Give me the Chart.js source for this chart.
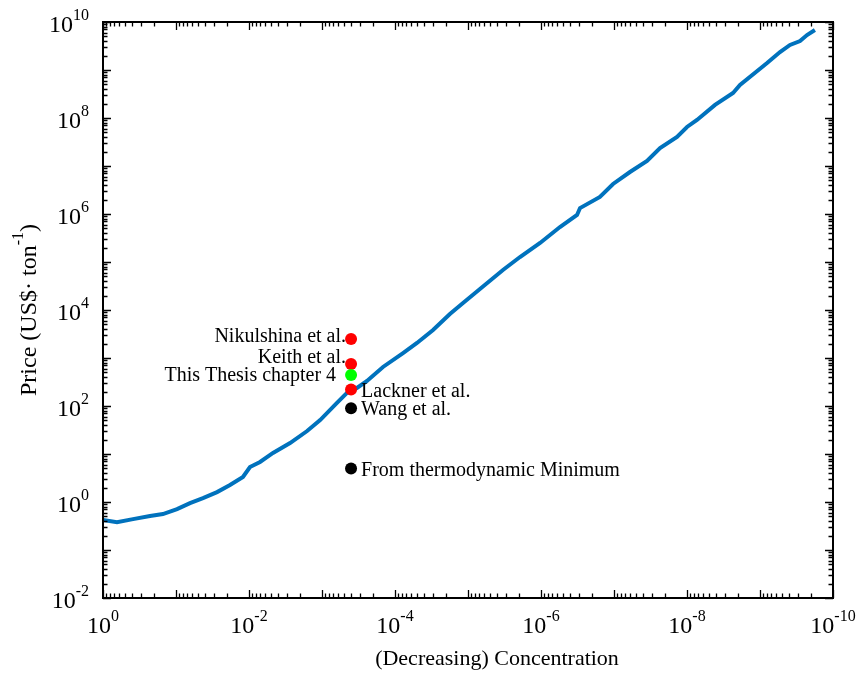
<!DOCTYPE html>
<html>
<head>
<meta charset="utf-8">
<script src="https://cdn.jsdelivr.net/npm/chart.js@4/dist/chart.umd.min.js"></script>
<style>
  html, body { margin: 0; padding: 0; background: #fff; }
  canvas { display: block; }
</style>
</head>
<body>
<canvas id="priceChart" width="861" height="677"></canvas>
<script>
// cost curve: price per ton vs. (decreasing) concentration
const conc = [1, 0.643, 0.388, 0.227, 0.151, 0.0968, 0.0643, 0.0427, 0.0274, 0.0182,
  0.0121, 0.0097, 0.00706, 0.00469, 0.00274, 0.0016, 0.00106, 6.24e-4, 4.55e-4, 3.32e-4,
  2.42e-4, 1.46e-4, 7.76e-5, 5.0e-5, 3.01e-5, 1.77e-5, 1.17e-5, 6.86e-6, 3.32e-6, 1.94e-6,
  1.03e-6, 5.5e-7, 3.21e-7, 2.92e-7, 1.56e-7, 1.03e-7, 6.04e-8, 3.53e-8, 2.34e-8, 1.37e-8,
  1.0e-8, 7.3e-9, 4.13e-9, 2.34e-9, 1.88e-9, 8.0e-10, 5.32e-10, 3.88e-10, 2.83e-10, 2.27e-10,
  1.77e-10];
const price = [0.42, 0.38, 0.44, 0.51, 0.56, 0.71, 0.95, 1.21, 1.61, 2.26,
  3.32, 5.36, 6.81, 10.5, 16.9, 30.1, 51, 116, 187, 237,
  332, 650, 1270, 2056, 3830, 8260, 14000, 27400, 68100, 1.27e5,
  2.49e5, 5.36e5, 9.53e5, 1.33e6, 2.26e6, 4.22e6, 7.5e6, 1.27e7, 2.37e7, 4.02e7,
  6.5e7, 9.08e7, 1.87e8, 3.32e8, 4.88e8, 1.4e9, 2.37e9, 3.32e9, 4.02e9, 5.36e9,
  6.8e9];

// reported direct air capture costs at ambient (~400 ppm)
const refConc = 4e-4;
const refNames = ['Nikulshina et al.', 'Keith et al.', 'This Thesis chapter 4',
  'Lackner et al.', 'Wang et al.', 'From thermodynamic Minimum'];
const refPrice = [2500, 750, 440, 220, 90, 5];
const refColors = ['#ff0000', '#ff0000', '#00ff00', '#ff0000', '#000000', '#000000'];

// decade exponents that get a label
const xTickExp = [0, -2, -4, -6, -8, -10];
const yTickExp = [-2, 0, 2, 4, 6, 8, 10];

const FONT = '"Liberation Serif", "Times New Roman", serif';

// label placement next to each reference dot: side, gap and vertical nudge
const labelStyle = [
  { side: 'left', gap: 5, dy: -2 },
  { side: 'left', gap: 5, dy: -6 },
  { side: 'left', gap: 15, dy: 1 },
  { side: 'right', gap: 10, dy: 2 },
  { side: 'right', gap: 10, dy: 2 },
  { side: 'right', gap: 10, dy: 2 }
];

function drawPow(ctx, exp, x, y, align) {
  ctx.font = '24px ' + FONT;
  const wb = ctx.measureText('10').width;
  ctx.font = '16px ' + FONT;
  const we = ctx.measureText(exp).width;
  const total = wb + we;
  let left = x;
  if (align === 'center') left = x - total / 2;
  if (align === 'right') left = x - total;
  ctx.textAlign = 'left';
  ctx.textBaseline = 'middle';
  ctx.font = '24px ' + FONT;
  ctx.fillText('10', left, y);
  ctx.font = '16px ' + FONT;
  ctx.fillText(exp, left + wb, y - 10);
}

const axesPlugin = {
  id: 'matlabAxes',
  afterDraw(chart) {
    const ctx = chart.ctx;
    const area = chart.chartArea;
    const xs = chart.scales.x, ys = chart.scales.y;
    ctx.save();
    ctx.strokeStyle = '#000';
    ctx.fillStyle = '#000';

    // inward ticks on all four sides
    ctx.lineWidth = 1.3;
    ctx.beginPath();
    for (let d = -10; d <= 0; d++) {
      for (let k = 1; k <= 9; k++) {
        const v = k * Math.pow(10, d);
        if (v > 1) break;
        const px = Math.round(xs.getPixelForValue(v)) + 0.5;
        const len = k === 1 ? 8 : 4.5;
        ctx.moveTo(px, area.bottom); ctx.lineTo(px, area.bottom - len);
        ctx.moveTo(px, area.top); ctx.lineTo(px, area.top + len);
      }
    }
    for (let d = -2; d <= 10; d++) {
      for (let k = 1; k <= 9; k++) {
        const v = k * Math.pow(10, d);
        if (v > 1e10) break;
        const py = Math.round(ys.getPixelForValue(v)) + 0.5;
        const len = k === 1 ? 8 : 4.5;
        ctx.moveTo(area.left, py); ctx.lineTo(area.left + len, py);
        ctx.moveTo(area.right, py); ctx.lineTo(area.right - len, py);
      }
    }
    ctx.stroke();

    // box
    ctx.lineWidth = 2;
    ctx.strokeRect(area.left, area.top, area.right - area.left, area.bottom - area.top);

    // tick labels
    xTickExp.forEach(e => drawPow(ctx, String(e), xs.getPixelForValue(Math.pow(10, e)), area.bottom + 29, 'center'));
    yTickExp.forEach(e => drawPow(ctx, String(e), 89, ys.getPixelForValue(Math.pow(10, e)) + 4, 'right'));

    // axis titles
    ctx.font = '22px ' + FONT;
    ctx.textAlign = 'center';
    ctx.textBaseline = 'middle';
    ctx.fillText('(Decreasing) Concentration', 497, 659);

    ctx.save();
    ctx.translate(30, 310);
    ctx.rotate(-Math.PI / 2);
    const partA = 'Price (US$\u00b7 ton', partB = ')';
    ctx.font = '24px ' + FONT;
    const wa = ctx.measureText(partA).width, wc = ctx.measureText(partB).width;
    ctx.font = '16px ' + FONT;
    const wsup = ctx.measureText('-1').width;
    let lx = -(wa + wsup + wc) / 2;
    ctx.textAlign = 'left';
    ctx.font = '24px ' + FONT;
    ctx.fillText(partA, lx, 0);
    ctx.font = '16px ' + FONT;
    ctx.fillText('-1', lx + wa, -11);
    ctx.font = '24px ' + FONT;
    ctx.fillText(partB, lx + wa + wsup, 0);
    ctx.restore();

    // reference labels
    ctx.font = '20px ' + FONT;
    ctx.textBaseline = 'middle';
    refNames.forEach((name, i) => {
      const px = xs.getPixelForValue(refConc);
      const py = ys.getPixelForValue(refPrice[i]);
      const st = labelStyle[i];
      if (st.side === 'left') {
        ctx.textAlign = 'right';
        ctx.fillText(name, px - st.gap, py + st.dy);
      } else {
        ctx.textAlign = 'left';
        ctx.fillText(name, px + st.gap, py + st.dy);
      }
    });
    ctx.restore();
  }
};

new Chart(document.getElementById('priceChart'), {
  type: 'line',
  data: {
    datasets: [
      {
        data: conc.map((c, i) => ({ x: c, y: price[i] })),
        borderColor: '#0072bd',
        borderWidth: 4,
        pointRadius: 0,
        tension: 0,
        fill: false,
        order: 2
      },
      {
        data: refPrice.map(p => ({ x: refConc, y: p })),
        showLine: false,
        pointRadius: 6,
        pointBorderWidth: 0,
        pointBackgroundColor: refColors,
        pointBorderColor: refColors,
        order: 1
      }
    ]
  },
  options: {
    responsive: false,
    animation: false,
    devicePixelRatio: 1,
    layout: { padding: { left: 103, right: 28, top: 22, bottom: 79 } },
    plugins: { legend: { display: false }, tooltip: { enabled: false } },
    scales: {
      x: { type: 'logarithmic', reverse: true, min: 1e-10, max: 1, display: false },
      y: { type: 'logarithmic', min: 1e-2, max: 1e10, display: false }
    }
  },
  plugins: [axesPlugin]
});
</script>
</body>
</html>
